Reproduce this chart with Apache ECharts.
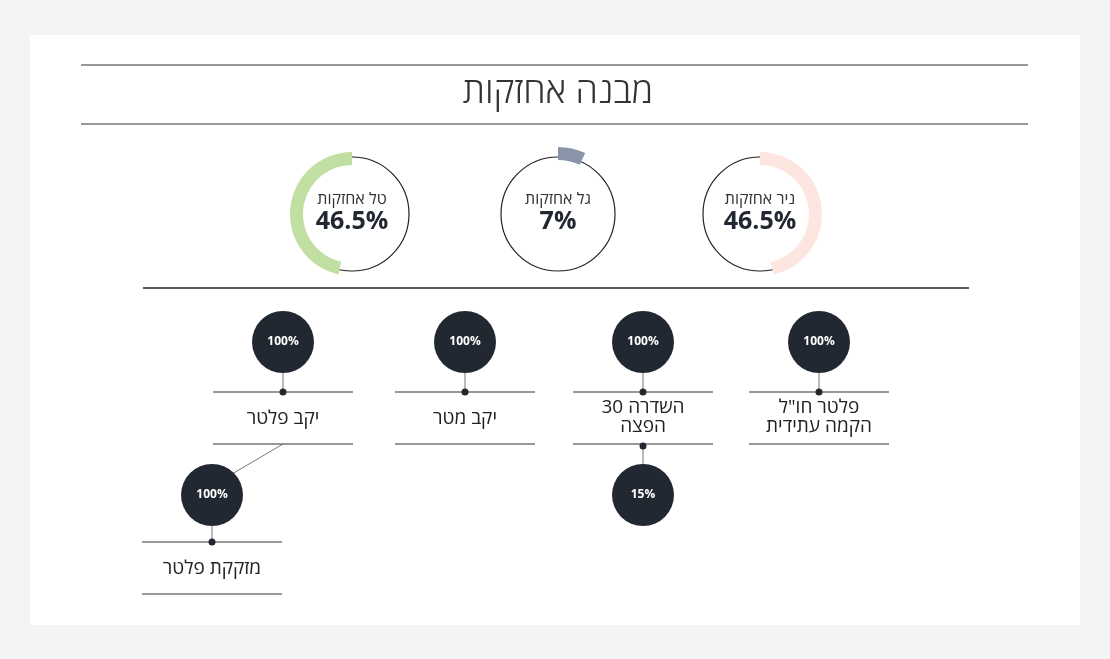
<!DOCTYPE html>
<html><head><meta charset="utf-8">
<script src="https://cdn.jsdelivr.net/npm/echarts@6/dist/echarts.min.js"></script>
<style>html,body{margin:0;background:#f4f4f4}#c{width:1110px;height:659px}</style>
</head><body><div id="c"></div>
<script>
const title = 'מבנה אחזקות';
const holders = ['טל אחזקות', 'גל אחזקות', 'ניר אחזקות'];
const holderShares = [46.5, 7, 46.5];
const holderColors = ['#c1dea3', '#8a94a8', '#fde6df'];
const companies = ['יקב פלטר', 'יקב מטר', 'השדרה 30\nהפצה', 'פלטר חו"ל\nהקמה עתידית'];
const companyShares = ['100%', '100%', '100%', '100%'];
const subCompanies = ['מזקקת פלטר', ''];
const subShares = ['100%', '15%'];

const F = '"Open Sans","DejaVu Sans",sans-serif';
const DARK = '#222831';
const chart = echarts.init(document.getElementById('c'));
const g = [];
g.push({type:'rect', shape:{x:30,y:35,width:1050,height:590}, style:{fill:'#fff'}, z:-10});
const hl = (x1,x2,y,w,c)=>g.push({type:'line', shape:{x1,y1:y,x2,y2:y}, style:{stroke:c||'#333',lineWidth:w||1}});
hl(81,1028,65,1.2); hl(81,1028,124,1.2);
g.push({type:'text', x:558, y:93, style:{text:title, font:'300 36px '+F, fill:'#333', align:'center', verticalAlign:'middle'}});
hl(143,969,288,1.5,'#222');

const dcx = [352, 558, 760], dcy = 214;
const series = [];
holders.forEach((h,i)=>{
  g.push({type:'circle', shape:{cx:dcx[i],cy:dcy,r:57}, style:{fill:'none',stroke:'#222',lineWidth:1.2}, z:0});
  g.push({type:'text', x:dcx[i], y:dcy-15, style:{text:h, font:'16px '+F, fill:'#333', align:'center', verticalAlign:'middle'}, z:10});
  g.push({type:'text', x:dcx[i], y:dcy+8, style:{text:holderShares[i]+'%', font:'bold 25px '+F, fill:'#222831', align:'center', verticalAlign:'middle'}, z:10});
  const r = i===1 ? [51,64] : [49,62];
  series.push({type:'pie', silent:true, center:[dcx[i], i===1?dcy-3:dcy], radius:r, startAngle:90, clockwise:i!==0,
    label:{show:false}, z:5,
    data:[{value:holderShares[i], itemStyle:{color:holderColors[i]}},{value:100-holderShares[i], itemStyle:{color:'rgba(0,0,0,0)'}}]});
});

function node(cx, cy, txt){
  g.push({type:'circle', shape:{cx,cy,r:31}, style:{fill:DARK}, z:5});
  g.push({type:'text', x:cx, y:cy, style:{text:txt, font:'bold 12px '+F, fill:'#fff', align:'center', verticalAlign:'middle'}, z:6});
}
function dot(cx,cy){ g.push({type:'circle', shape:{cx,cy,r:3.5}, style:{fill:DARK}, z:6}); }
function vl(x,y1,y2){ g.push({type:'line', shape:{x1:x,y1,x2:x,y2}, style:{stroke:'#555',lineWidth:0.8}}); }
function box(cx, topY, name, botY){
  hl(cx-70,cx+70,topY,1.2); hl(cx-70,cx+70,botY,1.2);
  const lines = name.split('\n').length;
  g.push({type:'text', x:cx, y:(topY+botY)/2+(lines>1?-1:1), style:{text:name, font:'19px '+F, fill:'#222', align:'center', verticalAlign:'middle', lineHeight:19}});
}
const ccx = [283, 465, 643, 819];
companies.forEach((c,i)=>{
  vl(ccx[i],373,392);
  node(ccx[i],342,companyShares[i]);
  box(ccx[i],392,c,444);
  dot(ccx[i],392);
});
// sub: מזקקת פלטר
g.push({type:'line', shape:{x1:283,y1:444,x2:232,y2:474}, style:{stroke:'#555',lineWidth:0.8}});
vl(212,526,542);
node(212,495,subShares[0]);
box(212,542,subCompanies[0],594);
dot(212,542);
// sub under השדרה 30
dot(643,446); vl(643,446,464);
node(643,495,subShares[1]);

chart.setOption({animation:false, series, graphic:g});
</script></body></html>
